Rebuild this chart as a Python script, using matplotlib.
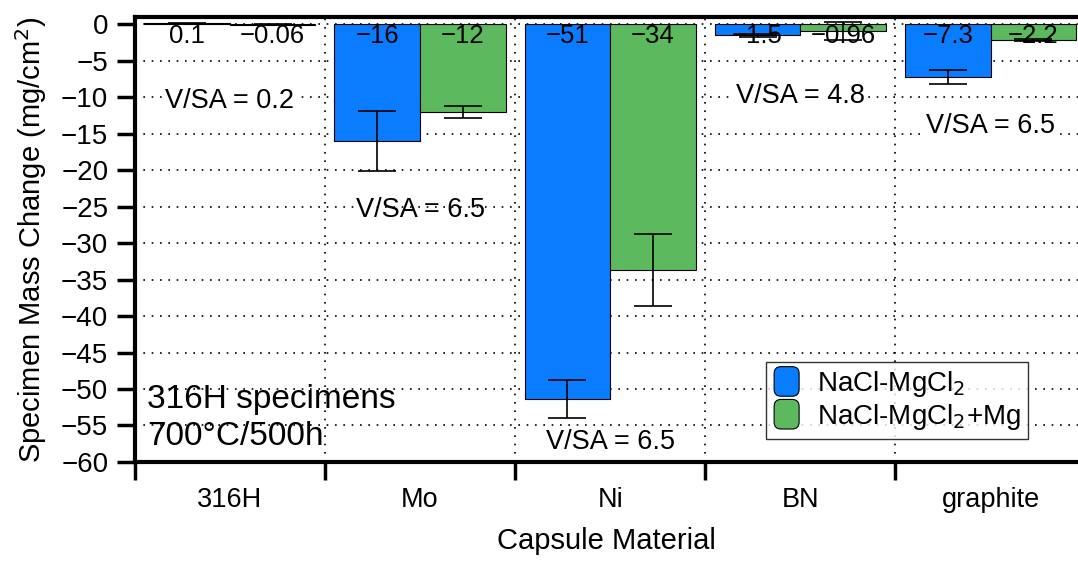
import matplotlib
matplotlib.use("Agg")
import matplotlib.pyplot as plt
import numpy as np
from matplotlib.patches import FancyBboxPatch, Patch
from matplotlib.legend_handler import HandlerPatch

plt.rcParams['font.family'] = ['Liberation Sans', 'DejaVu Sans']

categories = ["316H", "Mo", "Ni", "BN", "graphite"]
salt_vals = [0.1, -16.0, -51.4, -1.5, -7.3]
salt_err = [0.05, 4.1, 2.6, 0.2, 0.95]
mg_vals = [-0.06, -12.0, -33.7, -0.96, -2.2]
mg_err = [0.12, 0.8, 4.9, 1.2, 0.1]
salt_labels = ["0.1", "\u221216", "\u221251", "\u22121.5", "\u22127.3"]
mg_labels = ["\u22120.06", "\u221212", "\u221234", "\u22120.96", "\u22122.2"]
vsa_labels = ["V/SA = 0.2", "V/SA = 6.5", "V/SA = 6.5", "V/SA = 4.8", "V/SA = 6.5"]
vsa_y = [-10.5, -25.5, -57.2, -9.8, -14.0]
yticks = list(range(-60, 1, 5))

blue = "#0A7CFF"
green = "#5DB95D"

fig = plt.figure(figsize=(10.78, 5.62), dpi=100)
ax = fig.add_axes([0.125, 0.178, 0.875, 0.792])

x = np.arange(len(categories))
w = 0.45
ax.bar(x - w / 2, salt_vals, w, color=blue, edgecolor="black", linewidth=0.8, zorder=2)
ax.bar(x + w / 2, mg_vals, w, color=green, edgecolor="black", linewidth=0.8, zorder=2)
ax.errorbar(x - w / 2, salt_vals, yerr=salt_err, fmt="none", ecolor="black",
            elinewidth=1.2, capsize=14, capthick=1.2, zorder=3)
ax.errorbar(x + w / 2, mg_vals, yerr=mg_err, fmt="none", ecolor="black",
            elinewidth=1.2, capsize=14, capthick=1.2, zorder=3)

for i in range(len(categories)):
    ax.text(x[i] - w / 2, -1.6, salt_labels[i], ha="center", va="center", fontsize=18.5, zorder=4)
    ax.text(x[i] + w / 2, -1.6, mg_labels[i], ha="center", va="center", fontsize=18.5, zorder=4)
    ax.text(x[i], vsa_y[i], vsa_labels[i], ha="center", va="center", fontsize=19.5, zorder=4,
            bbox=dict(facecolor="white", edgecolor="none", pad=1) if i in (0, 3, 4) else None)

ax.text(-0.435, -54.0, "316H specimens\n700\u00b0C/500h", ha="left", va="center",
        fontsize=24, linespacing=1.25, zorder=4)

ax.set_xlim(-0.5, 4.46)
ax.set_ylim(-60, 1)
ax.set_yticks(yticks)
ax.set_yticklabels([str(v).replace("-", "\u2212") for v in yticks], fontsize=20)
ax.set_xticks(np.arange(-0.5, 4.5, 1))
ax.set_xticklabels([])
ax.set_xticks(x, minor=True)
ax.set_xticklabels(categories, minor=True, fontsize=19.5)
ax.tick_params(axis="x", which="minor", length=0, pad=18)
ax.tick_params(axis="x", which="major", length=13, width=2.5, direction="out")
ax.tick_params(axis="y", which="major", length=13, width=2.5, direction="out", pad=6)

ax.grid(True, which="major", linestyle=(0, (1, 4)), color="black", linewidth=1.2, zorder=0)
ax.set_axisbelow(True)

for s in ["left", "bottom", "top"]:
    ax.spines[s].set_linewidth(3)
ax.spines["right"].set_visible(False)

ax.set_ylabel("Specimen Mass Change (mg/cm$^2$)", fontsize=21, labelpad=9)
ax.set_xlabel("Capsule Material", fontsize=21, labelpad=10)


class RoundHandler(HandlerPatch):
    def create_artists(self, legend, orig_handle, xdescent, ydescent, width, height, fontsize, trans):
        p = FancyBboxPatch((-xdescent + 1, -ydescent - 3), width - 2, height + 6,
                           boxstyle="round,pad=0,rounding_size=5",
                           facecolor=orig_handle.get_facecolor(), edgecolor="black", linewidth=0.8,
                           transform=trans)
        return [p]


handles = [Patch(facecolor=blue, edgecolor="black"), Patch(facecolor=green, edgecolor="black")]
leg = ax.legend(handles, ["NaCl-MgCl$_2$", "NaCl-MgCl$_2$+Mg"], loc="lower left",
                bbox_to_anchor=(0.669, 0.052), fontsize=20, frameon=True, fancybox=False,
                edgecolor="black", handlelength=1.0, handleheight=0.8, handletextpad=0.6,
                borderpad=0.25, labelspacing=0.1, borderaxespad=0,
                handler_map={Patch: RoundHandler()})
leg.get_frame().set_linewidth(1.0)
leg.set_zorder(5)

fig.savefig("out.png", dpi=100)
